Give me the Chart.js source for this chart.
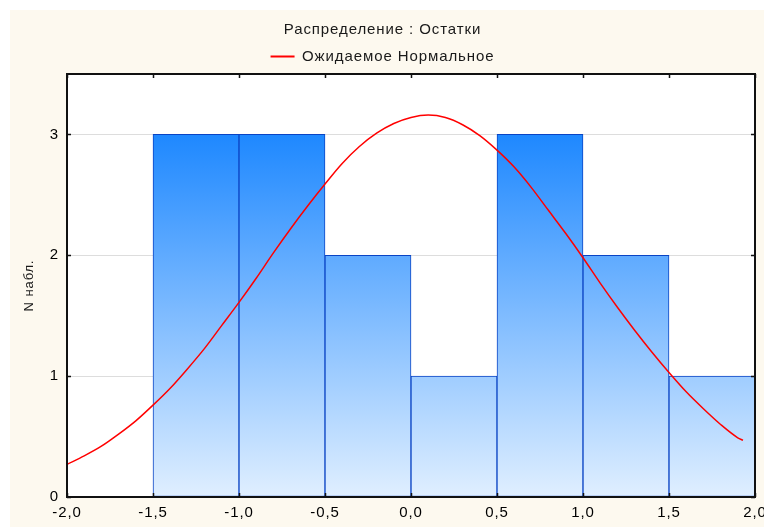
<!DOCTYPE html>
<html>
<head>
<meta charset="utf-8">
<script src="https://cdn.jsdelivr.net/npm/chart.js@4"></script>
<style>
  html, body { margin: 0; padding: 0; background: #ffffff; }
  #box { position: absolute; left: 10px; top: 10px; width: 754px; height: 517px; background: #fdf9ef; }
  canvas { display: block; }
</style>
</head>
<body>
<div id="box"><canvas id="histChart" width="754" height="517"></canvas></div>
<script>
// histogram bins (centres, width 0,5) and counts
const binCenters = [-1.75, -1.25, -0.75, -0.25, 0.25, 0.75, 1.25, 1.75];
const counts = [0, 3, 3, 2, 1, 3, 2, 1];

// expected normal curve
const curveX = [-2.0, -1.9, -1.8, -1.7, -1.6, -1.5, -1.4, -1.3, -1.2, -1.1,
  -1.0, -0.9, -0.8, -0.7, -0.6, -0.5, -0.4, -0.3, -0.2, -0.1,
  0.0, 0.1, 0.2, 0.3, 0.4, 0.5, 0.6, 0.7, 0.8, 0.9,
  1.0, 1.1, 1.2, 1.3, 1.4, 1.5, 1.6, 1.7, 1.8, 1.9, 1.93];
const curveY = [0.27, 0.34, 0.42, 0.52, 0.63, 0.76, 0.90, 1.06, 1.23, 1.42,
  1.61, 1.81, 2.02, 2.22, 2.41, 2.59, 2.76, 2.90, 3.01, 3.09,
  3.14, 3.16, 3.14, 3.08, 2.99, 2.87, 2.73, 2.56, 2.37, 2.18,
  1.98, 1.77, 1.57, 1.38, 1.20, 1.03, 0.87, 0.73, 0.60, 0.49, 0.47];

const xTicks = [-2, -1.5, -1, -0.5, 0, 0.5, 1, 1.5, 2];
const yTicks = [0, 1, 2, 3];

const FONT = '"Liberation Sans", Arial, sans-serif';

function barGradient(context) {
  const chart = context.chart;
  const area = chart.chartArea;
  if (!area) return '#5aa8ff';
  const yScale = chart.scales.y;
  const g = chart.ctx.createLinearGradient(0, yScale.getPixelForValue(3), 0, yScale.getPixelForValue(0));
  g.addColorStop(0, 'rgb(30,136,255)');
  g.addColorStop(1, 'rgb(224,239,255)');
  return g;
}

// the original text is set a little wide
const wideText = {
  id: 'wideText',
  beforeUpdate(chart) { chart.ctx.letterSpacing = '0.9px'; },
  beforeDraw(chart) { chart.ctx.letterSpacing = '0.9px'; }
};

const plotFrame = {
  id: 'plotFrame',
  beforeDraw(chart) {
    const a = chart.chartArea, ctx = chart.ctx;
    ctx.save();
    ctx.fillStyle = '#ffffff';
    ctx.fillRect(a.left, a.top, a.right - a.left, a.bottom - a.top);
    ctx.restore();
  },
  afterDraw(chart) {
    const a = chart.chartArea, ctx = chart.ctx;
    const xs = chart.scales.x, ys = chart.scales.y;
    ctx.save();
    ctx.strokeStyle = '#111111';
    ctx.lineWidth = 2;
    ctx.strokeRect(a.left, a.top, a.right - a.left, a.bottom - a.top);
    ctx.lineWidth = 1.5;
    ctx.beginPath();
    xTicks.forEach(v => {
      const px = Math.round(xs.getPixelForValue(v)) + 0.5;
      ctx.moveTo(px, a.top); ctx.lineTo(px, a.top + 4);
      ctx.moveTo(px, a.bottom); ctx.lineTo(px, a.bottom - 4);
    });
    yTicks.forEach(v => {
      const py = Math.round(ys.getPixelForValue(v)) + 0.5;
      ctx.moveTo(a.left, py); ctx.lineTo(a.left + 4, py);
      ctx.moveTo(a.right, py); ctx.lineTo(a.right - 4, py);
    });
    ctx.stroke();
    ctx.restore();
  }
};

const data = {
  datasets: [{
    type: 'line',
    label: 'Ожидаемое Нормальное',
    data: curveX.map((x, i) => ({x: x, y: curveY[i]})),
    borderColor: '#ff0000',
    backgroundColor: '#ff0000',
    borderWidth: 1.5,
    pointRadius: 0,
    cubicInterpolationMode: 'monotone',
    fill: false,
    order: 0
  }, {
    type: 'bar',
    label: 'Остатки',
    data: binCenters.map((c, i) => ({x: c, y: counts[i]})),
    backgroundColor: barGradient,
    borderColor: '#0a44c4',
    borderWidth: 1,
    borderSkipped: false,
    barPercentage: 1,
    categoryPercentage: 1,
    order: 1
  }]
};

const config = {
  type: 'bar',
  data: data,
  plugins: [wideText, plotFrame],
  options: {
    responsive: false,
    animation: false,
    layout: { padding: { left: 0, right: 9, top: 0, bottom: 0 } },
    plugins: {
      title: {
        display: true,
        text: 'Распределение : Остатки',
        color: '#1a1a1a',
        font: { family: FONT, size: 15, weight: 'normal' },
        padding: { top: 11, bottom: 0 }
      },
      legend: {
        display: true,
        labels: {
          color: '#1a1a1a',
          font: { family: FONT, size: 15 },
          boxWidth: 24,
          boxHeight: 2,
          padding: 10,
          generateLabels: chart => [{
            text: 'Ожидаемое Нормальное',
            fillStyle: '#ff0000',
            strokeStyle: '#ff0000',
            lineWidth: 0,
            fontColor: '#1a1a1a',
            datasetIndex: 0
          }]
        }
      },
      tooltip: { enabled: false }
    },
    scales: {
      x: {
        type: 'linear',
        min: -2,
        max: 2,
        offset: false,
        grid: { display: false, drawTicks: false },
        border: { display: false },
        ticks: {
          stepSize: 0.5,
          padding: 7,
          color: '#000000',
          font: { family: FONT, size: 15 },
          maxRotation: 0,
          autoSkip: false,
          callback: v => v.toFixed(1).replace('.', ',')
        },
        afterFit: s => { s.height = 30; s.paddingLeft = 0; s.paddingRight = 0; }
      },
      y: {
        min: 0,
        max: 3.5,
        grid: { color: 'rgb(221,221,221)', lineWidth: 1, drawTicks: false },
        border: { display: false },
        ticks: {
          stepSize: 1,
          includeBounds: false,
          padding: 8,
          color: '#000000',
          font: { family: FONT, size: 15 }
        },
        title: {
          display: true,
          text: 'N набл.',
          color: '#1a1a1a',
          font: { family: FONT, size: 13 },
          padding: { top: 12, bottom: 0 }
        },
        afterFit: s => { s.width = 57; s.paddingTop = 0; s.paddingBottom = 0; }
      }
    }
  }
};

var histChart = new Chart(document.getElementById('histChart'), config);
</script>
</body>
</html>
